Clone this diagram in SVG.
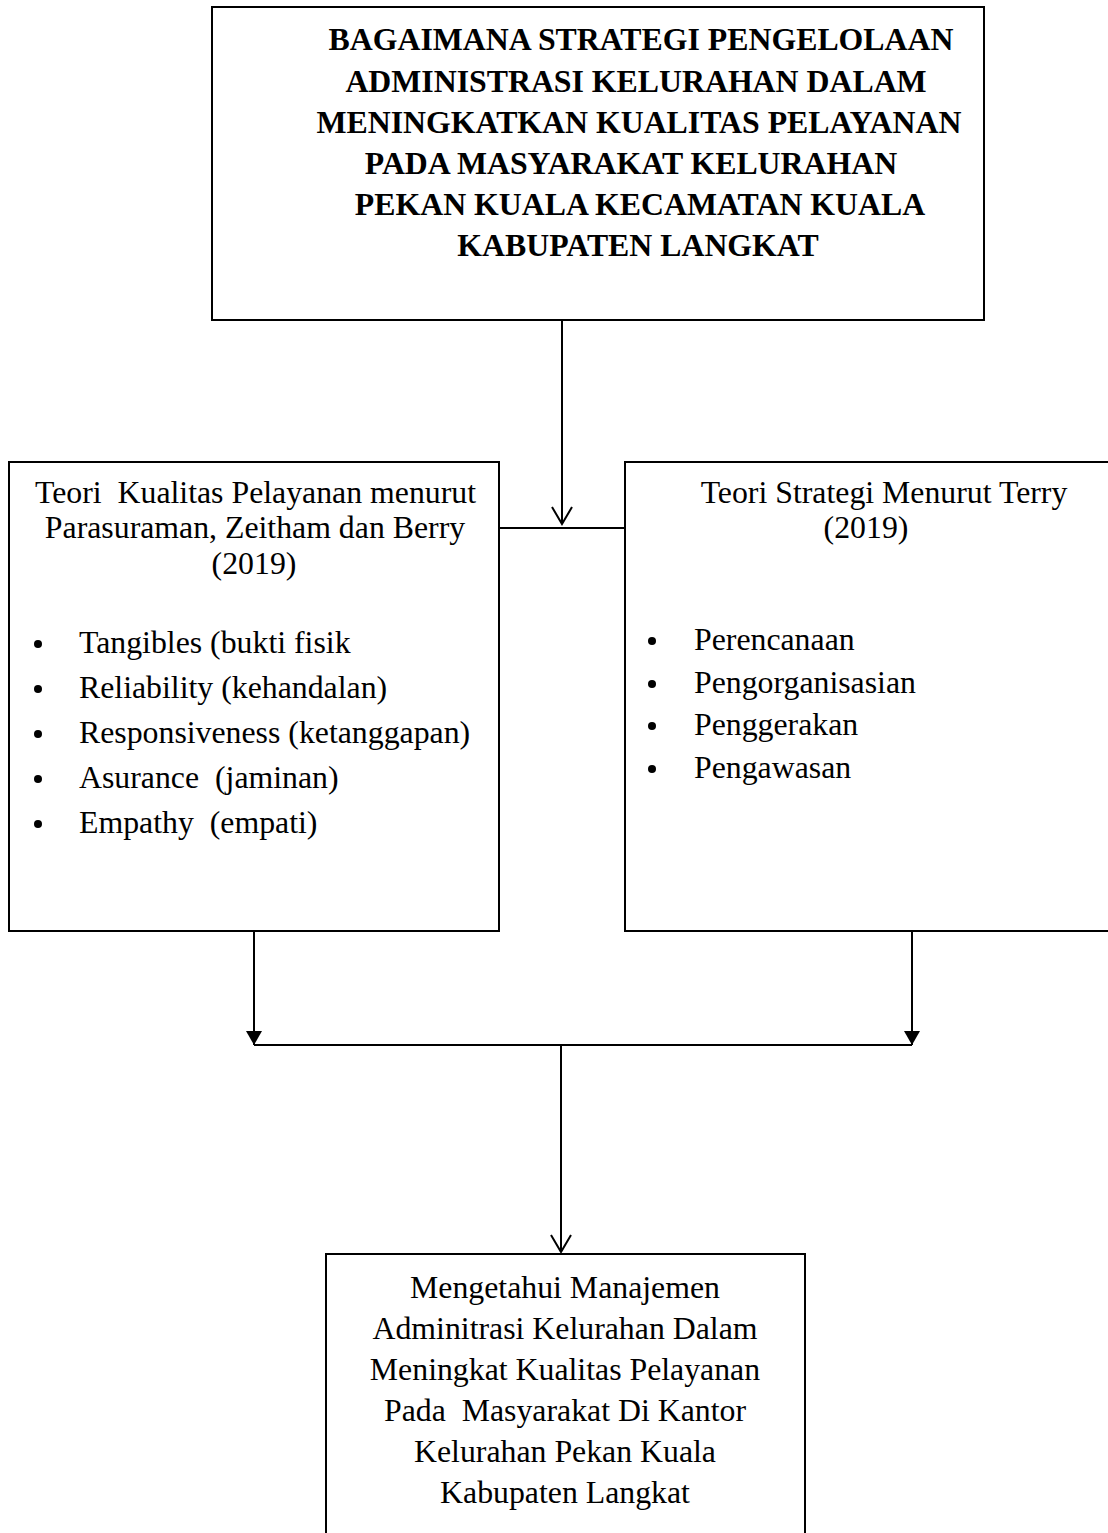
<svg xmlns="http://www.w3.org/2000/svg" width="1108" height="1533" viewBox="0 0 1108 1533">
<style>
.box{fill:#fff;stroke:#000;stroke-width:2}
.t{font-family:"Liberation Serif","Times New Roman",serif;font-size:31.8px;fill:#000}
.b{font-weight:bold}
.c{text-anchor:middle}
.ln{stroke:#000;stroke-width:2;fill:none}
</style>
<defs>
<marker id="open" markerWidth="22" markerHeight="22" refX="18" refY="11" orient="auto" markerUnits="userSpaceOnUse" viewBox="0 0 22 22">
<path d="M1,1 L18,11 L1,21" fill="none" stroke="#000" stroke-width="2"/>
</marker>
<marker id="fill" markerWidth="16" markerHeight="16" refX="14" refY="8" orient="auto" markerUnits="userSpaceOnUse" viewBox="0 0 16 16">
<path d="M0,0 L14,8 L0,16 Z" fill="#000"/>
</marker>
</defs>
<rect width="1108" height="1533" fill="#fff"/>
<g id="connectors">
<line class="ln" x1="562" y1="320" x2="562" y2="524" marker-end="url(#open)"/>
<line class="ln" x1="499" y1="528" x2="625" y2="528"/>
<line class="ln" x1="254" y1="931" x2="254" y2="1045" marker-end="url(#fill)"/>
<line class="ln" x1="912" y1="931" x2="912" y2="1045" marker-end="url(#fill)"/>
<line class="ln" x1="254" y1="1045" x2="912" y2="1045"/>
<line class="ln" x1="561" y1="1046" x2="561" y2="1252" marker-end="url(#open)"/>
</g>
<g id="node-top">
<rect class="box" x="212" y="7" width="772" height="313"/>
<text class="t b c" x="641" y="50">BAGAIMANA STRATEGI PENGELOLAAN</text>
<text class="t b c" x="636" y="92">ADMINISTRASI KELURAHAN DALAM</text>
<text class="t b c" x="639" y="133">MENINGKATKAN KUALITAS PELAYANAN</text>
<text class="t b c" x="631" y="174">PADA MASYARAKAT KELURAHAN</text>
<text class="t b c" x="640" y="215">PEKAN KUALA KECAMATAN KUALA</text>
<text class="t b c" x="638" y="256">KABUPATEN LANGKAT</text>
</g>
<g id="node-left">
<rect class="box" x="9" y="462" width="490" height="469"/>
<text class="t" x="35" y="503" xml:space="preserve">Teori  Kualitas Pelayanan menurut</text>
<text class="t c" x="255" y="538">Parasuraman, Zeitham dan Berry</text>
<text class="t c" x="254" y="574">(2019)</text>
<g class="t">
<circle cx="38" cy="644" r="4"/><text x="79" y="653">Tangibles (bukti fisik</text>
<circle cx="38" cy="689" r="4"/><text x="79" y="698">Reliability (kehandalan)</text>
<circle cx="38" cy="734" r="4"/><text x="79" y="743">Responsiveness (ketanggapan)</text>
<circle cx="38" cy="779" r="4"/><text x="79" y="788" xml:space="preserve">Asurance  (jaminan)</text>
<circle cx="38" cy="824" r="4"/><text x="79" y="833" xml:space="preserve">Empathy  (empati)</text>
</g>
</g>
<g id="node-right">
<rect class="box" x="625" y="462" width="500" height="469"/>
<text class="t c" x="884" y="503">Teori Strategi Menurut Terry</text>
<text class="t c" x="866" y="538">(2019)</text>
<g class="t">
<circle cx="652" cy="641" r="4"/><text x="694" y="650">Perencanaan</text>
<circle cx="652" cy="684" r="4"/><text x="694" y="693">Pengorganisasian</text>
<circle cx="652" cy="726" r="4"/><text x="694" y="735">Penggerakan</text>
<circle cx="652" cy="769" r="4"/><text x="694" y="778">Pengawasan</text>
</g>
</g>
<g id="node-bottom">
<rect class="box" x="326" y="1254" width="479" height="300"/>
<text class="t c" x="565" y="1298">Mengetahui Manajemen</text>
<text class="t c" x="565" y="1339">Adminitrasi Kelurahan Dalam</text>
<text class="t c" x="565" y="1380">Meningkat Kualitas Pelayanan</text>
<text class="t c" x="565" y="1421" xml:space="preserve">Pada  Masyarakat Di Kantor</text>
<text class="t c" x="565" y="1462">Kelurahan Pekan Kuala</text>
<text class="t c" x="565" y="1503">Kabupaten Langkat</text>
</g>
</svg>
